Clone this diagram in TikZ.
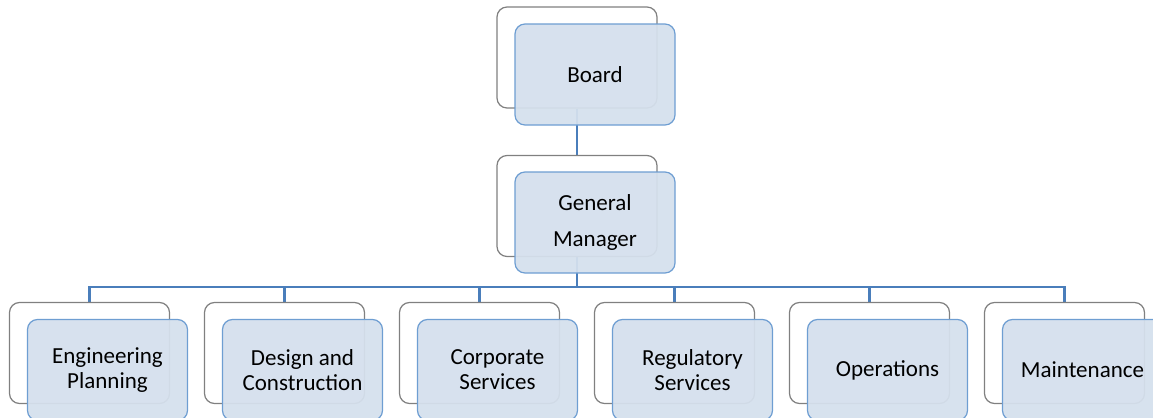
\documentclass[tikz,border=0pt]{standalone}
\usepackage{fontspec}
\setmainfont{Carlito}
\usetikzlibrary{backgrounds}

\definecolor{linkblue}{RGB}{74,126,187}
\definecolor{frontline}{RGB}{110,158,210}
\definecolor{frontfill}{RGB}{213,224,237}
\definecolor{backline}{RGB}{128,128,128}

\begin{document}
\begin{tikzpicture}[x=0.5pt,y=-0.5pt,
    backbox/.style={draw=backline, line width=0.6pt, rounded corners=5pt,
      fill=white, minimum width=80pt, minimum height=50.5pt, inner sep=0pt},
    frontbox/.style={draw=frontline, line width=0.6pt, rounded corners=5pt,
      fill=frontfill, fill opacity=0.94, text opacity=1,
      minimum width=80pt, minimum height=50.5pt, inner sep=0pt, align=center,
      font=\fontsize{11.5}{12.5}\selectfont},
    link/.style={draw=linkblue, line width=1.15pt}]
  \useasboundingbox (0,0) rectangle (1153,418);
  \clip (0,0) rectangle (1153,418);

  % Nodes
  \node[backbox] (boardback) at (577,57.5) {};
  \node[frontbox] (board) at (595,74.5) {Board};

  \node[backbox] (gmback) at (577,206) {};
  \node[frontbox, font=\fontsize{11.5}{18}\selectfont] (gm) at (595,222.5) {General\\Manager};

  \coordinate (bus) at (577,287);

  \foreach \name/\txt [count=\i from 0] in {eng/{Engineering\\Planning},
      design/{Design and\\Construction}, corp/{Corporate\\Services},
      reg/{Regulatory\\Services}, ops/{Operations}, maint/{Maintenance}} {
    \node[backbox] (\name-back) at ({89.5+195*\i},353) {};
    \node[frontbox] (\name) at ({107.5+195*\i},370) {\txt};
  }

  % Edges
  \begin{scope}[on background layer]
    \draw[link] (boardback.south) -- (gmback.north);
    \draw[link] (gmback.south) -- (bus);
    \foreach \name in {eng,design,corp,reg,ops,maint}
      \draw[link] (bus) -| (\name-back.north);
  \end{scope}
\end{tikzpicture}
\end{document}
